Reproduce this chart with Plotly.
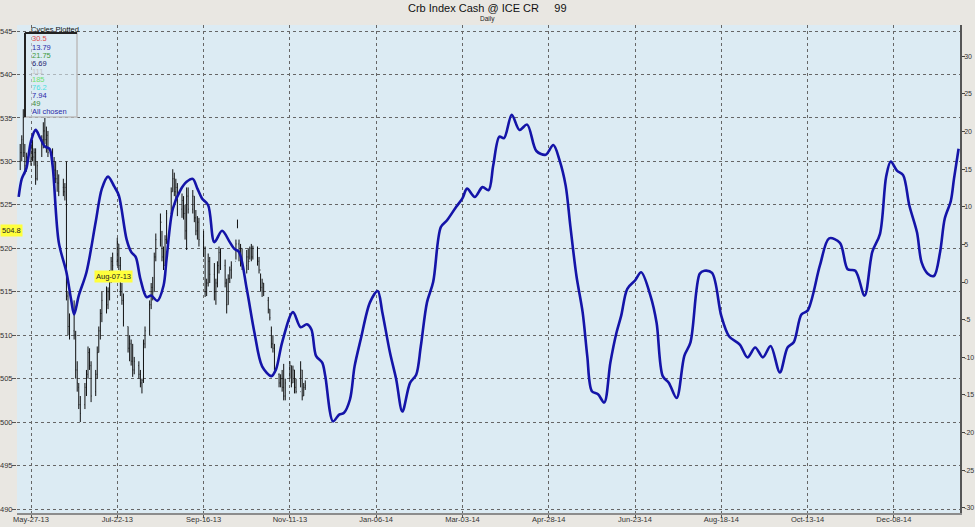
import pandas as pd
import plotly.graph_objects as go

# ---------------- data ----------------
bar_dates = pd.bdate_range("2013-05-20", "2013-11-21")

bar_open = [530, 531, 532, 531, 529.5,
            530, 531.5, 530.5, 531, 528,
            530, 532.5, 533.5, 532.5, 533,
            531, 530, 529, 528, 527.5,
            527, 526.5, 529.8, 514.5, 511,
            510.5, 510, 506, 504, 502,
            502, 504, 505.5, 508, 506.5,
            503.5, 505.5, 508, 510.5, 512.5,
            514, 513.5, 515, 517, 518.5,
            518.5, 520.5, 518, 515, 514,
            511, 508.5, 509, 507, 506,
            506.5, 505.5, 504.5, 505, 509,
            510.5, 513.5, 515.5, 515, 519,
            521, 523, 519, 518, 521,
            524, 526.5, 528, 526.5, 527,
            524.5, 525.5, 524, 522, 526,
            524.5, 526, 523.5, 522, 523,
            521, 520, 515, 516, 518.5,
            517, 515, 516, 518, 519.5,
            518, 516, 513.5, 516.5, 517.5,
            518.5, 522.5, 520.5, 519.5, 520,
            518, 519, 518.5, 520, 519,
            520, 518.5, 517.5, 515.5, 516,
            514, 513, 510.5, 509, 508.5,
            505.5, 504.5, 505, 504, 503,
            505, 506.5, 504.5, 506, 504,
            503.5, 506, 503, 504]
bar_high = [532, 533, 536, 532, 531,
            532, 532.5, 531.5, 531.5, 530,
            533, 534.5, 535, 534, 533.5,
            531.5, 530.5, 530, 529, 528.5,
            528, 527.5, 530, 515, 512.5,
            514, 510.5, 507, 504.5, 503,
            504.5, 506, 508.7, 508.5, 507,
            506, 508.7, 511, 513, 515,
            515.6, 515.5, 517.5, 519, 519.5,
            521.2, 520.5, 519, 516, 514.8,
            511, 510, 509.5, 509, 507.5,
            507, 506, 505, 509.5, 511,
            514, 516, 516.7, 519.5, 521.7,
            524, 522, 520.2, 521.5, 524.4,
            527, 529.1, 528.7, 528, 527.5,
            526.3, 526, 525, 527, 527,
            526.7, 526, 524.4, 523.7, 523.5,
            522, 520.2, 516.5, 519.4, 519,
            518.3, 516.5, 518.5, 520.2, 520,
            518.7, 516.5, 517, 517.9, 518.5,
            521, 523.3, 521, 520.5, 520,
            519.8, 520, 520.2, 520.5, 520.3,
            520.2, 519, 517.1, 516.5, 516,
            514.4, 513, 511, 510, 509,
            505.6, 505.5, 506, 506.7, 505,
            507, 506.5, 506.5, 506, 505,
            507, 506, 504.5, 504.8]
bar_low = [529, 530, 530.5, 528.5, 528.8,
           529.5, 530, 529.5, 527.3, 527.8,
           530.5, 531.5, 532, 531, 530.5,
           529.5, 528.3, 527.5, 526.5, 526,
           526, 525.5, 514, 510, 509.5,
           509.5, 505, 503.5, 501.5, 500,
           501.5, 503, 505, 506, 502.3,
           503, 505, 508, 509.5, 511.5,
           512.5, 513, 514, 516, 517,
           518, 517.5, 514.5, 513.5, 511,
           508, 507, 506.5, 505.2, 505.5,
           505, 504, 503.3, 504.5, 508.5,
           510, 513, 514, 515, 518.5,
           520.2, 518.5, 517.5, 518, 520.5,
           524, 526.5, 526, 525.5, 523.7,
           523.5, 523.3, 521, 519.8, 524,
           524, 523, 521.5, 521, 520.2,
           519, 514.4, 514.5, 515.6, 516,
           514, 513.5, 515.5, 517.1, 517.5,
           515.5, 512.5, 513.5, 516, 516.5,
           518.7, 522.3, 518.5, 517.9, 517.5,
           517.1, 517.5, 518.7, 518.5, 518.7,
           518, 517.1, 515, 514.4, 514.5,
           512.5, 511.7, 508.5, 508, 506,
           504, 504, 503.5, 502.5, 502.5,
           505, 504, 504.5, 503.3, 503.3,
           504, 502.5, 503, 503.7]
bar_close = [531, 532.5, 531, 529.5, 530.5,
             531.5, 530.5, 531, 528, 529.5,
             532.5, 533.5, 532.5, 533, 531,
             530, 529, 528, 527.5, 526.5,
             526.5, 527, 514.5, 511, 510.5,
             510, 506, 504.5, 502, 501,
             504, 505.5, 508, 506.5, 503,
             505.5, 508, 510.5, 512.5, 514,
             513.5, 515, 517, 518.5, 518,
             520.5, 518, 515, 514, 511.5,
             508.5, 509, 507, 506, 507,
             505.5, 504.5, 504.8, 509, 510.5,
             513.5, 515.5, 515, 519, 521,
             523.5, 519, 518, 521, 524,
             526.5, 528, 526.5, 527, 524.5,
             525.5, 524, 522, 526, 524.5,
             526, 523.5, 522, 523, 521,
             520, 515, 516, 518.5, 517,
             515, 516, 518, 519.5, 518,
             516, 513.5, 516.5, 517.5, 518,
             520.5, 523, 519.5, 520, 518,
             519, 518.5, 520, 519, 520,
             518.5, 517.5, 515.5, 516, 515,
             513, 512, 509, 508.5, 506.5,
             504.5, 505, 504, 503, 504.5,
             506.5, 504.5, 506, 504, 503.5,
             506, 503, 504, 504.2]

cycle_dates = [
    "2013-05-19", "2013-05-21", "2013-05-24", "2013-05-27", "2013-05-30", "2013-06-02",
    "2013-06-05", "2013-06-08", "2013-06-10", "2013-06-14", "2013-06-19", "2013-06-22",
    "2013-06-24", "2013-06-27", "2013-07-02", "2013-07-08", "2013-07-12", "2013-07-16",
    "2013-07-20", "2013-07-23", "2013-07-28", "2013-07-31", "2013-08-03", "2013-08-06",
    "2013-08-10", "2013-08-13", "2013-08-17", "2013-08-21", "2013-08-23", "2013-08-27",
    "2013-09-01", "2013-09-05", "2013-09-09", "2013-09-12", "2013-09-15", "2013-09-19",
    "2013-09-23", "2013-09-28", "2013-10-03", "2013-10-06", "2013-10-09", "2013-10-14",
    "2013-10-19", "2013-10-24", "2013-10-30", "2013-11-02", "2013-11-06", "2013-11-13",
    "2013-11-18", "2013-11-22", "2013-11-25", "2013-11-28", "2013-12-02", "2013-12-04",
    "2013-12-09", "2013-12-13", "2013-12-16", "2013-12-20", "2013-12-23", "2013-12-27",
    "2014-01-02", "2014-01-07", "2014-01-10", "2014-01-15", "2014-01-19", "2014-01-23",
    "2014-01-28", "2014-02-01", "2014-02-04", "2014-02-08", "2014-02-12", "2014-02-17",
    "2014-02-21", "2014-02-27", "2014-03-03", "2014-03-06", "2014-03-11", "2014-03-16",
    "2014-03-20", "2014-03-23", "2014-03-27", "2014-03-30", "2014-04-04", "2014-04-09",
    "2014-04-14", "2014-04-20", "2014-04-26", "2014-05-01", "2014-05-05", "2014-05-09",
    "2014-05-12", "2014-05-16", "2014-05-20", "2014-05-23", "2014-05-26", "2014-05-30",
    "2014-06-03", "2014-06-07", "2014-06-11", "2014-06-14", "2014-06-18", "2014-06-23",
    "2014-06-27", "2014-07-03", "2014-07-07", "2014-07-11", "2014-07-15", "2014-07-20",
    "2014-07-25", "2014-07-29", "2014-08-04", "2014-08-07", "2014-08-12", "2014-08-18",
    "2014-08-23", "2014-08-30", "2014-09-04", "2014-09-09", "2014-09-14", "2014-09-19",
    "2014-09-25", "2014-09-30", "2014-10-04", "2014-10-09", "2014-10-13", "2014-10-21",
    "2014-10-27", "2014-11-03", "2014-11-08", "2014-11-13", "2014-11-19", "2014-11-24",
    "2014-11-29", "2014-12-03", "2014-12-06", "2014-12-10", "2014-12-14", "2014-12-18",
    "2014-12-23", "2014-12-26", "2014-12-30", "2015-01-03", "2015-01-07", "2015-01-10",
    "2015-01-14", "2015-01-16", "2015-01-19",
]
cycle_values = [
    11.3, 13.7, 15.1, 18.7, 20.2, 19.1,
    18.0, 17.7, 15.5, 5.3, 1.3, -2.3,
    -4.3, -1.8, 1.3, 8.0, 12.4, 14.0,
    12.7, 11.5, 5.7, 4.0, 3.3, 0.4,
    -2.0, -1.8, -2.5, -0.5, 3.1, 9.7,
    12.2, 13.3, 13.7, 12.4, 11.1, 10.2,
    5.3, 6.8, 5.3, 4.4, 4.0, -0.9,
    -6.7, -11.2, -12.5, -11.6, -8.0, -4.0,
    -6.0, -5.6, -6.3, -9.8, -10.7, -12.5,
    -18.5, -17.6, -17.4, -15.6, -11.2, -7.6,
    -2.7, -1.2, -4.0, -9.4, -12.9, -17.2,
    -13.4, -12.3, -8.5, -2.7, 0.0, 7.3,
    8.2, 10.0, 11.1, 12.4, 11.3, 12.6,
    12.2, 15.5, 19.3, 19.1, 22.2, 20.2,
    20.9, 17.4, 16.9, 18.2, 16.2, 12.8,
    7.5, 0.8, -4.0, -9.8, -14.5, -14.9,
    -16.0, -10.7, -6.7, -4.5, -0.9, 0.2,
    1.3, -1.8, -5.4, -12.5, -13.4, -15.4,
    -9.8, -8.0, 1.1, 1.5, 1.2, -4.5,
    -7.2, -8.3, -10.0, -8.7, -10.0, -8.5,
    -12.0, -8.7, -8.0, -4.3, -3.8, 2.2,
    5.8, 5.2, 1.7, 1.5, -1.8, 4.0,
    6.4, 14.0, 16.0, 14.8, 14.2, 10.2,
    6.6, 2.6, 1.1, 0.8, 4.0, 8.4,
    10.8, 13.7, 17.7,
]

price_ticks = list(range(490, 546, 5))
cycle_ticks = list(range(-30, 31, 5))
cycle_tick_labels = [str(v) for v in cycle_ticks]
date_ticks = ["2013-05-27", "2013-07-22", "2013-09-16", "2013-11-11", "2014-01-06", "2014-03-03",
              "2014-04-28", "2014-06-23", "2014-08-18", "2014-10-13", "2014-12-08"]
date_labels = ["May-27-13", "Jul-22-13", "Sep-16-13", "Nov-11-13", "Jan-06-14", "Mar-03-14",
               "Apr-28-14", "Jun-23-14", "Aug-18-14", "Oct-13-14", "Dec-08-14"]

legend_items = ["30.5", "13.79", "21.75", "6.69", "111", "185", "76.2", "7.94", "49", "All chosen"]
legend_colors = ["#e04848", "#2a2aa8", "#3c9a3c", "#20206e", "#c4c4c4", "#6ee06e", "#48e0e0",
                 "#2a2aa8", "#3c8a3c", "#2a2aa8"]

# ---------------- figure ----------------
W, H = 975, 527
L, R, T, B = 17, 15, 25, 14
PW, PH = W - L - R, H - T - B

def px(x):
    return (x - L) / PW

def py(y):
    return (H - B - y) / PH

FONT = "Liberation Sans"

fig = go.Figure()
fig.add_trace(go.Ohlc(
    x=bar_dates, open=bar_open, high=bar_high, low=bar_low, close=bar_close,
    increasing=dict(line=dict(color="#111111", width=1)),
    decreasing=dict(line=dict(color="#111111", width=1)),
    tickwidth=0.3, showlegend=False, hoverinfo="skip",
))
fig.add_trace(go.Scatter(
    x=cycle_dates, y=cycle_values, yaxis="y2", mode="lines",
    line=dict(color="#1414a8", width=2.6, shape="spline", smoothing=0.9),
    showlegend=False, hoverinfo="skip",
))

fig.update_layout(
    width=W, height=H,
    margin=dict(l=L, r=R, t=T, b=B, autoexpand=False),
    paper_bgcolor="#e9e7e2",
    plot_bgcolor="#dcebf3",
    font=dict(family=FONT, size=8, color="#333333"),
    xaxis=dict(
        type="date", automargin=False,
        range=["2013-05-17 22:00", "2015-01-19 22:00"],
        tickvals=date_ticks, ticktext=date_labels,
        showgrid=True, gridcolor="#666666", griddash="dot", gridwidth=1,
        ticks="outside", ticklen=3, tickcolor="#555555",
        ticklabelstandoff=-5,
        showline=True, linecolor="#8c8c8c", linewidth=2,
        rangeslider=dict(visible=False),
        zeroline=False, tickfont=dict(size=7.5, color="#333333"),
    ),
    yaxis=dict(
        automargin=False,
        range=[489.54, 545.69],
        tickvals=price_ticks,
        showgrid=True, gridcolor="#666666", griddash="dot", gridwidth=1,
        ticks="outside", ticklen=4, tickcolor="#555555",
        ticklabelstandoff=-2,
        showline=False, zeroline=False,
        tickfont=dict(size=7.5, color="#333333"),
    ),
    yaxis2=dict(
        automargin=False,
        range=[-30.67, 34.13],
        tickvals=cycle_ticks, ticktext=cycle_tick_labels,
        overlaying="y", side="right",
        showgrid=False, zeroline=False,
        ticks="outside", ticklen=3, tickcolor="#444444",
        ticklabelstandoff=-2,
        showline=True, linecolor="#555555", linewidth=1.5,
        tickfont=dict(size=7, color="#333333"),
    ),
)

annotations = [
    dict(text="Crb Index Cash @ ICE CR\u00a0\u00a0\u00a0\u00a0 99", x=px(487), y=py(8), xref="paper", yref="paper",
         xanchor="center", yanchor="middle", showarrow=False,
         font=dict(family=FONT, size=11, color="#111111")),
    dict(text="Daily", x=px(487), y=py(18.5), xref="paper", yref="paper",
         xanchor="center", yanchor="middle", showarrow=False,
         font=dict(family=FONT, size=6.5, color="#222222")),
    dict(text="Cycles Plotted", x=px(29), y=py(29), xref="paper", yref="paper",
         xanchor="left", yanchor="middle", showarrow=False,
         font=dict(family=FONT, size=7.5, color="#111111")),
    dict(text="504.8", x=px(0), y=py(231), xref="paper", yref="paper",
         xanchor="left", yanchor="middle", showarrow=False, bgcolor="#ffff3c",
         borderpad=1, font=dict(family=FONT, size=7.5, color="#222222")),
    dict(text="Aug-07-13", x=px(94), y=py(276), xref="paper", yref="paper",
         xanchor="left", yanchor="middle", showarrow=False, bgcolor="#ffff3c",
         borderpad=1, font=dict(family=FONT, size=7.5, color="#222222")),
]
for i, (lab, col) in enumerate(zip(legend_items, legend_colors)):
    annotations.append(dict(
        text=lab, x=px(29.5), y=py(39 + i * 8.1), xref="paper", yref="paper",
        xanchor="left", yanchor="middle", showarrow=False,
        font=dict(family=FONT, size=7.5, color=col)))
fig.update_layout(annotations=annotations)

shapes = [
    # legend box
    dict(type="rect", xref="paper", yref="paper", x0=px(25), x1=px(77), y0=py(117), y1=py(33),
         line=dict(color="#bdbdbd", width=1.5), fillcolor="rgba(220,235,243,0.6)", layer="above"),
    dict(type="line", xref="paper", yref="paper", x0=px(25), x1=px(77), y0=py(33), y1=py(33),
         line=dict(color="#222222", width=2), layer="above"),
    dict(type="line", xref="paper", yref="paper", x0=px(25), x1=px(25), y0=py(33), y1=py(117),
         line=dict(color="#222222", width=2), layer="above"),
]
fig.update_layout(shapes=shapes)

fig.write_html("out.html", config={"displayModeBar": False},
               post_script="document.body.style.margin='0px';document.body.style.overflow='hidden';")
